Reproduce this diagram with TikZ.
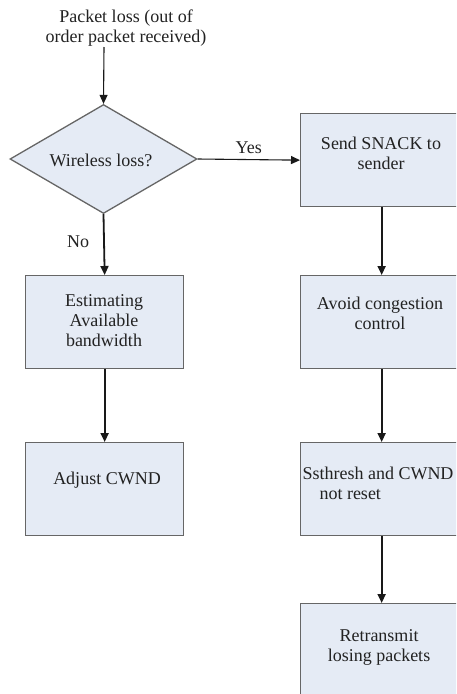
\documentclass[tikz,border=0pt]{standalone}
\usepackage{fontspec}
\setmainfont{Liberation Serif}
\usetikzlibrary{shapes.geometric,arrows.meta}
\definecolor{boxfill}{HTML}{E5EBF5}
\definecolor{boxline}{HTML}{666666}
\definecolor{txt}{HTML}{222222}
\tikzset{
  procbox/.style={draw=boxline, line width=1.3pt, fill=boxfill, minimum width=158pt, minimum height=93pt, inner sep=0pt},
  rprocbox/.style={procbox, minimum width=162pt},
  decbox/.style={draw=boxline, line width=1.3pt, fill=boxfill, diamond, minimum width=187pt, minimum height=109pt, inner sep=0pt, aspect=1.7},
  lbl/.style={text=txt, font=\fontsize{18}{20}\selectfont, align=center, inner sep=0pt},
  flow/.style={draw=black!90, line width=1.8pt, -{Triangle[length=9pt,width=8pt]}},
  flowthin/.style={draw=black!90, line width=1.1pt, -{Triangle[length=9pt,width=8pt]}}
}
\begin{document}
\begin{tikzpicture}[x=1pt,y=-1pt]
\useasboundingbox (0,0) rectangle (456,694);
\clip (0,0) rectangle (456,694);
\fill[white] (0,0) rectangle (456,694);

\node[lbl] (start) at (126,28) {Packet loss (out of\\order packet received)};
\coordinate (startpt) at (104,47);

\node[decbox] (dec) at (103.5,159) {};
\node[lbl] (dectxt) at (101,160) {Wireless loss?};

\node[procbox, anchor=north west] (est) at (25,275) {};
\node[lbl] (esttxt) at (104,321) {Estimating\\Available\\bandwidth};
\node[procbox, anchor=north west] (adj) at (25,442) {};
\node[lbl] (adjtxt) at (107,480) {Adjust CWND};

\node[rprocbox, anchor=north west] (snack) at (300,113) {};
\node[lbl] (snacktxt) at (381,153) {Send SNACK to\\sender};
\node[rprocbox, anchor=north west] (avoid) at (300,275) {};
\node[lbl] (avoidtxt) at (380,313) {Avoid congestion\\control};
\node[rprocbox, anchor=north west] (ssth) at (300,442) {};
\node[lbl, align=left] (ssthtxt) at (378,483) {Ssthresh and CWND\\\hspace*{17pt}not reset};
\node[rprocbox, anchor=north west] (retr) at (300,603) {};
\node[lbl] (retrtxt) at (379,647) {Retransmit\\losing packets};

\draw[flowthin] (startpt) -- (dec.north);
\draw[flowthin] (dec.east) -- (snack.west) node[lbl, midway, above=5pt] {Yes};
\draw[flow] (dec.south) -- (est.north) node[lbl, pos=0.45, left=14pt] {No};
\draw[flow] (est.south) -- (adj.north);
\draw[flow] (snack.south -| ssth.north) -- (avoid.north -| ssth.north);
\draw[flow] (avoid.south) -- (ssth.north);
\draw[flow] (ssth.south) -- (retr.north);
\end{tikzpicture}
\end{document}
